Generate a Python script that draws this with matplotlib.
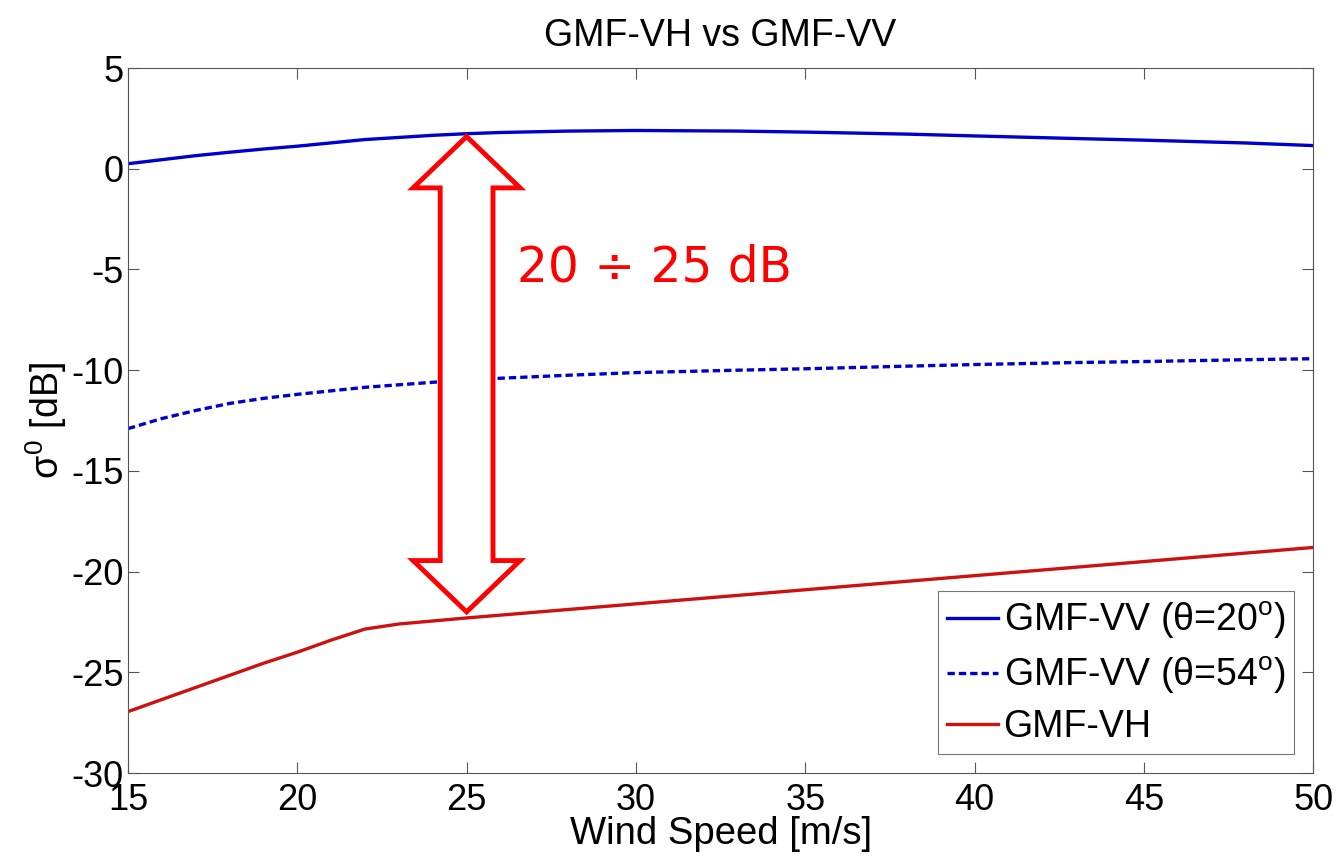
import numpy as np
import matplotlib
matplotlib.use("Agg")
from matplotlib import pyplot as plt
from matplotlib.patches import Polygon

plt.rcParams['font.family'] = ['Liberation Sans', 'DejaVu Sans']
plt.rcParams['axes.unicode_minus'] = False
plt.rcParams['mathtext.fontset'] = 'custom'
plt.rcParams['mathtext.rm'] = 'Liberation Sans'
plt.rcParams['mathtext.it'] = 'Liberation Sans'
plt.rcParams['mathtext.bf'] = 'Liberation Sans:bold'

# Données
vent = [15, 16, 17, 18, 19, 20, 22, 24, 25, 26, 28, 30, 33, 35, 38, 40, 43, 45, 48, 50]
vv20 = [0.25, 0.45, 0.65, 0.82, 0.98, 1.12, 1.45, 1.66, 1.74, 1.80, 1.87, 1.90, 1.87, 1.82, 1.72, 1.63, 1.50, 1.42, 1.28, 1.15]
vv54 = [-12.9, -12.4, -12.0, -11.65, -11.4, -11.2, -10.85, -10.6, -10.5, -10.4, -10.25, -10.12, -10.0, -9.93, -9.8, -9.72, -9.62, -9.57, -9.48, -9.43]
vent_vh = [15, 16, 17, 18, 19, 20, 21, 22, 23, 24, 25, 30, 35, 40, 45, 50]
vh = [-26.95, -26.35, -25.75, -25.15, -24.55, -24.0, -23.4, -22.85, -22.6, -22.45, -22.3, -21.6, -20.9, -20.2, -19.5, -18.8]

# Flèche double (centre, haut, bas) en données
fleche_x, fleche_haut, fleche_bas = 25, 1.6, -22.0
demi_tete, demi_corps, long_tete = 1.58, 0.78, 2.55


def fleche_double(xc, y1, y0, hw, sw, hl):
    return [(xc, y1), (xc + hw, y1 - hl), (xc + sw, y1 - hl), (xc + sw, y0 + hl),
            (xc + hw, y0 + hl), (xc, y0), (xc - hw, y0 + hl), (xc - sw, y0 + hl),
            (xc - sw, y1 - hl), (xc - hw, y1 - hl)]


fig = plt.figure(figsize=(13.4, 8.58), dpi=100)
ax = fig.add_axes([0.0955, 0.099, 0.8845, 0.8217])

ax.plot(vent, vv20, color="#0000cc", linewidth=2.4, label="GMF-VV (θ=20$^{\\rm o}$)")
ax.plot(vent, vv54, color="#0000cc", linewidth=2.4, linestyle=(0, (2.2, 1.2)), label="GMF-VV (θ=54$^{\\rm o}$)")
ax.plot(vent_vh, vh, color="#cc1111", linewidth=2.4, label="GMF-VH")

pts = fleche_double(fleche_x, fleche_haut, fleche_bas, demi_tete, demi_corps, long_tete)
ax.add_patch(Polygon(pts, closed=True, facecolor="white", edgecolor="#ff0000", linewidth=3.5, zorder=3))
ax.text(26.5, -4.9, "20 ÷ 25 dB", color="#ff0000", fontsize=35, family="DejaVu Sans", va="center", ha="left")

ax.set_xlim(15, 50)
ax.set_ylim(-30, 5)
ax.set_xticks(range(15, 51, 5))
ax.set_yticks(range(-30, 6, 5))
ax.tick_params(direction="in", length=8, labelsize=26, top=True, right=True, width=0.8, color="#555555")
ax.tick_params(axis="x", pad=7)
ax.tick_params(axis="y", pad=3)
for s in ax.spines.values():
    s.set_color("#555555")
ax.set_xlabel("Wind Speed [m/s]", fontsize=27.5, labelpad=-1)
ax.set_ylabel(r"$\sigma^{\rm 0}$ [dB]", fontsize=27, labelpad=2)
ax.set_title("GMF-VH vs GMF-VV", fontsize=27, pad=16)

leg = ax.legend(loc="lower right", fontsize=27, fancybox=False, handlelength=1.35, handletextpad=0.15,
                borderaxespad=0.5, labelspacing=0.35, borderpad=0.25)
leg.get_frame().set_edgecolor("#555555")
leg.get_frame().set_linewidth(0.8)

plt.savefig("out.png", dpi=100)
